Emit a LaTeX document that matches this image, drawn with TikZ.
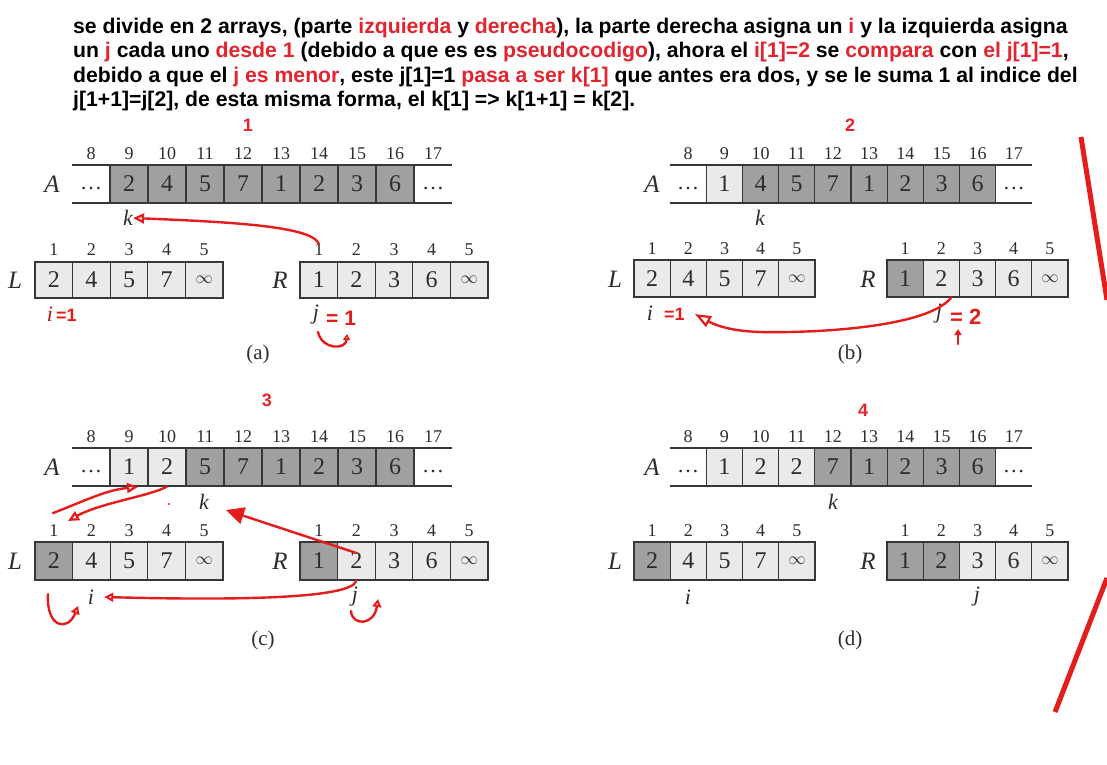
\documentclass[tikz,border=0pt]{standalone}
\usepackage{fontspec}
\setmainfont{Liberation Serif}
\setsansfont{Liberation Sans}
\usetikzlibrary{arrows.meta}
\definecolor{dk}{RGB}{160,160,160}
\definecolor{lt}{RGB}{234,234,234}
\definecolor{edge}{RGB}{55,55,55}
\definecolor{txt}{RGB}{45,45,45}
\definecolor{penred}{RGB}{228,28,28}
\definecolor{rtxt}{RGB}{226,36,46}
\newcommand\redtxt[1]{\textcolor{rtxt}{#1}}
\newcommand\infsym{{\fontsize{17}{17}\selectfont$\infty$}}
\newcommand\cellrow[7]{%
  \foreach \v/\s [count=\n from #6] in {#7}{%
    \node[cell, fill=\s, minimum width=#3pt, minimum height=#5pt] (#1\n) at ({#2+(\n-#6+0.5)*#3},{#4+#5/2}) {\v};}}
\newcommand\idxrow[6]{%
  \foreach \n in {#5,...,#6}{%
    \node[idx] (#1\n) at ({#2+(\n-#5+0.5)*#3},#4) {\n};}}
\tikzset{
  cell/.style={draw=edge, line width=1.1pt, inner sep=0pt, text=txt, font=\fontsize{24}{24}\selectfont},
  idx/.style={inner sep=0pt, text=txt, font=\fontsize{18}{18}\selectfont},
  lbl/.style={inner sep=0pt, text=txt, font=\itshape\fontsize{25}{25}\selectfont},
  var/.style={inner sep=0pt, text=txt, font=\itshape\fontsize{22}{22}\selectfont},
  capt/.style={inner sep=0pt, text=txt, font=\fontsize{21}{21}\selectfont},
  dotsn/.style={inner sep=0pt, text=txt, font=\fontsize{22}{22}\selectfont},
  rowline/.style={draw=edge, line width=1.1pt},
  hdr/.style={anchor=base west, inner sep=0pt, font=\sffamily\bfseries\fontsize{21.2}{21.2}\selectfont},
  pnum/.style={inner sep=0pt, text=rtxt, font=\sffamily\bfseries\fontsize{18}{18}\selectfont},
  hand/.style={inner sep=0pt, text=penred, font=\sffamily\bfseries\fontsize{18}{18}\selectfont},
  pen/.style={draw=penred, line width=2.4pt, line cap=round, line join=round},
  bigpen/.style={draw=penred, line width=5pt},
  otip/.style={-{Triangle[open,length=11pt,width=10pt,line width=2.2pt]}},
}
\begin{document}
\begin{tikzpicture}[x=1pt,y=-1pt]
\useasboundingbox (0,0) rectangle (1107,764);
\fill[white] (0,0) rectangle (1107,764);
\clip (0,0) rectangle (1107,764);

% header text
\node[hdr] (t1) at (73,33) {se divide en 2 arrays, (parte \redtxt{izquierda} y \redtxt{derecha}), la parte derecha asigna un \redtxt{i} y la izquierda asigna};
\node[hdr] (t2) at (73,57.5) {un \redtxt{j} cada uno \redtxt{desde 1} (debido a que es es \redtxt{pseudocodigo}), ahora el \redtxt{i[1]=2} se \redtxt{compara} con \redtxt{el j[1]=1},};
\node[hdr] (t3) at (73,82) {debido a que el \redtxt{j es menor}, este j[1]=1 \redtxt{pasa a ser k[1]} que antes era dos, y se le suma 1 al indice del};
\node[hdr] (t4) at (73,106.5) {j[1+1]=j[2], de esta misma forma, el k[1] => k[1+1] = k[2].};

% panel numbers
\node[pnum] (n1) at (248,125) {1};
\node[pnum] (n2) at (850,125) {2};
\node[pnum] (n3) at (267,400) {3};
\node[pnum] (n4) at (863,410) {4};

% ===== panel (a)
\draw[rowline] (72,165) -- (452,165) (72,203) -- (452,203);
\cellrow{aA}{110}{38}{165}{38}{9}{2/dk,4/dk,5/dk,7/dk,1/dk,2/dk,3/dk,6/dk}
\node[dotsn] (aA8) at (91,189) {\dots};
\node[dotsn] (aA17) at (433,189) {\dots};
\idxrow{aAi}{72}{38}{154}{8}{17}
\node[lbl] (aAlab) at (52,184) {A};
\cellrow{aL}{35}{37.6}{262}{36}{1}{2/lt,4/lt,5/lt,7/lt,\infsym/lt}
\idxrow{aLi}{35}{37.6}{250}{1}{5}
\cellrow{aR}{300}{37.6}{262}{36}{1}{1/lt,2/lt,3/lt,6/lt,\infsym/lt}
\idxrow{aRi}{300}{37.6}{250}{1}{5}
\node[lbl] (aLlab) at (15,280) {L};
\node[lbl] (aRlab) at (280,280) {R};
\node[var] (ak) at (128,218) {k};
\node[var, text=penred!80!black] (ai) at (50,314) {i};
\node[hand, anchor=west] (aieq) at (56,315) {=1};
\node[var] (aj) at (316,315) {j};
\node[hand, anchor=west, font=\sffamily\bfseries\fontsize{21}{21}\selectfont] (ajeq) at (326,318) {= 1};
\node[capt] (acap) at (258,354) {(a)};
\draw[pen, otip] (aRi1.north) .. controls (312,226) and (230,222) .. (ak.east);
\coordinate (aC1) at (318,332);
\coordinate (aC2) at (347,334);
\draw[pen, -{Triangle[open,length=6pt,width=7pt,line width=2pt]}] (aC1) .. controls (322,350) and (346,350) .. (aC2);

% ===== panel (b)
\draw[rowline] (670,165) -- (1032,165) (670,203) -- (1032,203);
\cellrow{bA}{706.2}{36.2}{165}{38}{9}{1/lt,4/dk,5/dk,7/dk,1/dk,2/dk,3/dk,6/dk}
\node[dotsn] (bA8) at (688.1,189) {\dots};
\node[dotsn] (bA17) at (1013.9,189) {\dots};
\idxrow{bAi}{670}{36.2}{154}{8}{17}
\node[lbl] (bAlab) at (652,184) {A};
\cellrow{bL}{634}{36.2}{260}{37}{1}{2/lt,4/lt,5/lt,7/lt,\infsym/lt}
\idxrow{bLi}{634}{36.2}{249}{1}{5}
\cellrow{bR}{887}{36.2}{260}{37}{1}{1/dk,2/lt,3/lt,6/lt,\infsym/lt}
\idxrow{bRi}{887}{36.2}{249}{1}{5}
\node[lbl] (bLlab) at (615,279) {L};
\node[lbl] (bRlab) at (868,279) {R};
\node[var] (bk) at (760,218) {k};
\node[var] (bi) at (650,313) {i};
\node[hand, anchor=west] (bieq) at (664,314) {=1};
\node[var] (bj) at (939,314) {j};
\node[hand, anchor=west, font=\sffamily\bfseries\fontsize{22}{22}\selectfont] (bjeq) at (950,317) {= 2};
\node[capt] (bcap) at (850,354) {(b)};
\draw[pen, -{Triangle[open,length=16pt,width=12pt,line width=2.2pt]}] ([xshift=10pt]bR2.south) .. controls (925,330) and (800,333) .. (760,332) .. controls (730,331) and (715,325) .. ([xshift=10pt]bieq.east);
\coordinate (bU1) at (958,344);
\coordinate (bU2) at (958,329);
\draw[pen, -{Triangle[length=6pt,width=7pt]}] (bU1) -- (bU2);

% ===== panel (c)
\draw[rowline] (72,448) -- (452,448) (72,486) -- (452,486);
\cellrow{cA}{110}{38}{448}{38}{9}{1/lt,2/lt,5/dk,7/dk,1/dk,2/dk,3/dk,6/dk}
\node[dotsn] (cA8) at (91,472) {\dots};
\node[dotsn] (cA17) at (433,472) {\dots};
\idxrow{cAi}{72}{38}{437}{8}{17}
\node[lbl] (cAlab) at (52,467) {A};
\cellrow{cL}{35}{37.6}{542}{38}{1}{2/dk,4/lt,5/lt,7/lt,\infsym/lt}
\idxrow{cLi}{35}{37.6}{531}{1}{5}
\cellrow{cR}{300}{37.6}{542}{38}{1}{1/dk,2/lt,3/lt,6/lt,\infsym/lt}
\idxrow{cRi}{300}{37.6}{531}{1}{5}
\node[lbl] (cLlab) at (15,561) {L};
\node[lbl] (cRlab) at (280,561) {R};
\node[var] (ck) at (204,502) {k};
\node[var] (ci) at (91,597) {i};
\node[var] (cj) at (355,597) {j};
\node[capt] (ccap) at (263,640) {(c)};
\coordinate (cE1) at (68,521);
\draw[pen, otip] (cA10.south) .. controls (150,496) and (100,503) .. (cE1);
\coordinate (cS2) at (53,513);
\coordinate (cE2) at (138,487);
\draw[pen, otip] (cS2) .. controls (80,503) and (105,490) .. (cE2);
\coordinate (cE3) at (226,510);
\draw[pen, -{Triangle[length=18pt,width=17pt]}] ([yshift=8pt]cR2.center) -- (cE3);
\draw[pen, -{Triangle[open,length=9pt,width=9pt,line width=2pt]}] (cR2.south) .. controls (352,600) and (220,600) .. ([xshift=10pt]ci.east);
\coordinate (cS5) at (48,594);
\coordinate (cE5) at (78,606);
\draw[pen, -{Triangle[open,length=8pt,width=9pt,line width=2pt]}] (cS5) .. controls (46,628) and (68,632) .. (cE5);
\coordinate (cS6) at (351,611);
\coordinate (cE6) at (378,599);
\draw[pen, -{Triangle[open,length=8pt,width=9pt,line width=2pt]}] (cS6) .. controls (352,626) and (374,626) .. (cE6);
\fill[penred] (169,504) circle (1.2);

% ===== panel (d)
\draw[rowline] (670,448) -- (1032,448) (670,486) -- (1032,486);
\cellrow{dA}{706.2}{36.2}{448}{38}{9}{1/lt,2/lt,2/lt,7/dk,1/dk,2/dk,3/dk,6/dk}
\node[dotsn] (dA8) at (688.1,472) {\dots};
\node[dotsn] (dA17) at (1013.9,472) {\dots};
\idxrow{dAi}{670}{36.2}{437}{8}{17}
\node[lbl] (dAlab) at (652,467) {A};
\cellrow{dL}{634}{36.2}{542}{38}{1}{2/dk,4/lt,5/lt,7/lt,\infsym/lt}
\idxrow{dLi}{634}{36.2}{531}{1}{5}
\cellrow{dR}{887}{36.2}{542}{38}{1}{1/dk,2/dk,3/lt,6/lt,\infsym/lt}
\idxrow{dRi}{887}{36.2}{531}{1}{5}
\node[lbl] (dLlab) at (615,561) {L};
\node[lbl] (dRlab) at (868,561) {R};
\node[var] (dk) at (833,502) {k};
\node[var] (di) at (688,597) {i};
\node[var] (dj) at (977,597) {j};
\node[capt] (dcap) at (850,640) {(d)};

% red strokes at right
\draw[bigpen] (1081,137) -- (1107,300);
\draw[bigpen] (1107,578) -- (1055,712);
\end{tikzpicture}
\end{document}
